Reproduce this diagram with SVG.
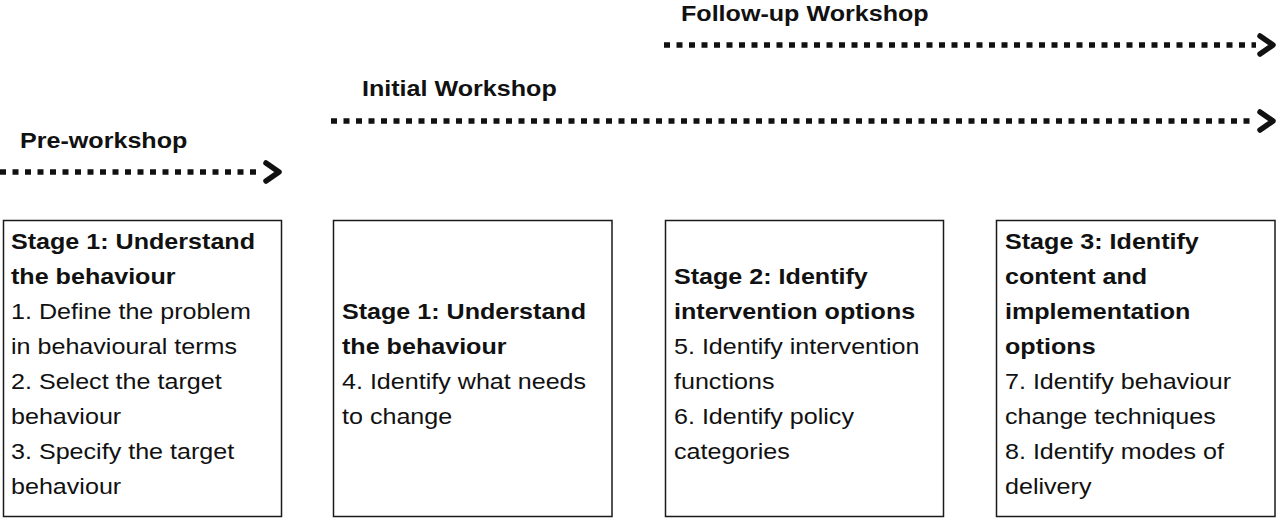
<svg xmlns="http://www.w3.org/2000/svg" width="1280" height="520" viewBox="0 0 1280 520">
<style>
  .bg{fill:#ffffff}
  .box{fill:#ffffff;stroke:#1a1a1a;stroke-width:1.5}
  .t{font-family:"Liberation Sans",Arial,sans-serif;font-size:21.5px;fill:#111111}
  .b{font-weight:bold}
  .dots{fill:none;stroke:#111111;stroke-width:5.5;stroke-dasharray:6 6.5}
  .head{fill:none;stroke:#111111;stroke-width:5.5;stroke-linejoin:round;stroke-linecap:round}
</style>
<defs>
  <marker id="chev" markerUnits="userSpaceOnUse" markerWidth="30" markerHeight="30" refX="0" refY="0" orient="auto" overflow="visible" viewBox="-5 -15 30 30">
    <path class="head" d="M4,-9 L17,0 L4,9"/>
  </marker>
</defs>
<rect class="bg" x="0" y="0" width="1280" height="520"/>

<g id="phase-labels">
  <text class="t b" transform="scale(1.168 1)" x="17.12" y="148">Pre-workshop</text>
  <text class="t b" transform="scale(1.168 1)" x="309.93" y="96">Initial Workshop</text>
  <text class="t b" transform="scale(1.168 1)" x="583.05" y="21">Follow-up Workshop</text>
</g>

<g id="connectors">
  <path class="dots" d="M0,172 L262,172" marker-end="url(#chev)"/>
  <path class="dots" d="M331,121 L1256,121" marker-end="url(#chev)"/>
  <path class="dots" d="M664,45 L1256,45" marker-end="url(#chev)"/>
</g>

<g id="box-pre-workshop">
  <rect class="box" x="3.5" y="220.5" width="278" height="296"/>
  <text class="t" transform="scale(1.168 1)">
    <tspan class="b" x="9.42" y="249">Stage 1: Understand</tspan>
    <tspan class="b" x="9.42" y="284">the behaviour</tspan>
    <tspan x="9.42" y="319">1. Define the problem</tspan>
    <tspan x="9.42" y="354">in behavioural terms</tspan>
    <tspan x="9.42" y="389">2. Select the target</tspan>
    <tspan x="9.42" y="424">behaviour</tspan>
    <tspan x="9.42" y="459">3. Specify the target</tspan>
    <tspan x="9.42" y="494">behaviour</tspan>
  </text>
</g>

<g id="box-initial-stage1">
  <rect class="box" x="333.5" y="220.5" width="278.5" height="296"/>
  <text class="t" transform="scale(1.168 1)">
    <tspan class="b" x="292.81" y="319">Stage 1: Understand</tspan>
    <tspan class="b" x="292.81" y="354">the behaviour</tspan>
    <tspan x="292.81" y="389">4. Identify what needs</tspan>
    <tspan x="292.81" y="424">to change</tspan>
  </text>
</g>

<g id="box-initial-stage2">
  <rect class="box" x="665.5" y="220.5" width="278" height="296"/>
  <text class="t" transform="scale(1.168 1)">
    <tspan class="b" x="577.05" y="284">Stage 2: Identify</tspan>
    <tspan class="b" x="577.05" y="319">intervention options</tspan>
    <tspan x="577.05" y="354">5. Identify intervention</tspan>
    <tspan x="577.05" y="389">functions</tspan>
    <tspan x="577.05" y="424">6. Identify policy</tspan>
    <tspan x="577.05" y="459">categories</tspan>
  </text>
</g>

<g id="box-followup-stage3">
  <rect class="box" x="996.5" y="220.5" width="278.5" height="296"/>
  <text class="t" transform="scale(1.168 1)">
    <tspan class="b" x="860.45" y="249">Stage 3: Identify</tspan>
    <tspan class="b" x="860.45" y="284">content and</tspan>
    <tspan class="b" x="860.45" y="319">implementation</tspan>
    <tspan class="b" x="860.45" y="354">options</tspan>
    <tspan x="860.45" y="389">7. Identify behaviour</tspan>
    <tspan x="860.45" y="424">change techniques</tspan>
    <tspan x="860.45" y="459">8. Identify modes of</tspan>
    <tspan x="860.45" y="494">delivery</tspan>
  </text>
</g>
</svg>
